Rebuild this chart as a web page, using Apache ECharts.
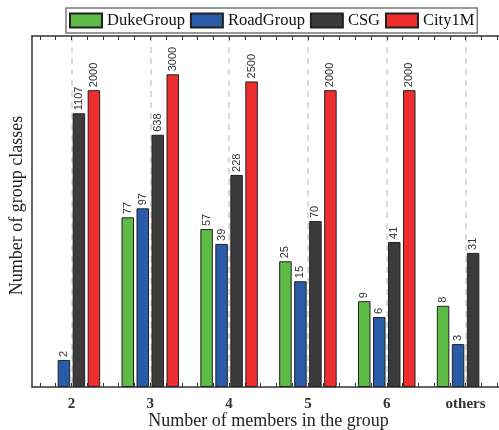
<!DOCTYPE html>
<html><head><meta charset="utf-8">
<script src="https://cdn.jsdelivr.net/npm/echarts@6/dist/echarts.min.js"></script>
<style>html,body{margin:0;padding:0;background:#fff}#c{width:499px;height:430px}</style>
</head><body><div id="c"></div>
<script>
const categories = ['2', '3', '4', '5', '6', 'others'];
const seriesNames = ['DukeGroup', 'RoadGroup', 'CSG', 'City1M'];
const dukeGroup = [null, 77, 57, 25, 9, 8];
const roadGroup = [2, 97, 39, 15, 6, 3];
const csg = [1107, 638, 228, 70, 41, 31];
const city1M = [2000, 3000, 2500, 2000, 2000, null];
const colors = ['#5dbb46', '#2a5ba8', '#3b3b3b', '#ee2e2e'];
const yMin = 1, yMax = 8000;

const dataSets = [dukeGroup, roadGroup, csg, city1M];
// helper slots: 10 per category, used only for minor ticks and dashed guide lines
const fineSlots = Array.from({length: categories.length * 10 + 1}, (_, i) => 'f' + i);
const serif = 'Liberation Serif';

function fineAxis(pos, showLine) {
  return {
    type: 'category', data: fineSlots, boundaryGap: false, position: pos,
    axisLine: {show: showLine, lineStyle: {color: '#333', width: 1.5}},
    axisTick: {show: true, inside: true, length: 4, interval: (i) => i % 2 === 1, lineStyle: {color: '#333', width: 1}},
    axisLabel: {show: false},
    splitLine: pos === 'bottom' ? {show: true, interval: (i) => i % 10 === 5, lineStyle: {color: '#cfcfcf', width: 1.5, type: [6, 5]}} : {show: false}
  };
}

const chart = echarts.init(document.getElementById('c'), null, {renderer: 'canvas'});
chart.setOption({
  animation: false,
  backgroundColor: '#fff',
  grid: {left: 32, right: -6, top: 36, bottom: 43, containLabel: false, outerBoundsMode: 'none'},
  legend: {
    data: seriesNames, left: 66, top: 8, padding: [4, 3], itemWidth: 32, itemHeight: 14, itemGap: 5,
    borderColor: '#777', borderWidth: 1.5, icon: 'rect',
    textStyle: {fontFamily: serif, fontSize: 16.5, color: '#111'}
  },
  xAxis: [
    {
      type: 'category', data: categories, position: 'bottom',
      name: 'Number of members in the group', nameLocation: 'middle', nameGap: 25, nameMoveOverlap: false,
      nameTextStyle: {fontFamily: serif, fontSize: 18, color: '#222'},
      axisLine: {show: true, lineStyle: {color: '#333', width: 1.5}},
      axisTick: {show: false},
      axisLabel: {fontFamily: serif, fontWeight: 'bold', fontSize: 15, color: '#333', margin: 10},
      splitLine: {show: false}
    },
    fineAxis('bottom', false),
    fineAxis('top', true)
  ],
  yAxis: [{
    type: 'log', min: yMin, max: yMax, logBase: 10,
    name: 'Number of group classes', nameLocation: 'middle', nameGap: 6, nameMoveOverlap: false,
    nameTextStyle: {fontFamily: serif, fontSize: 18, color: '#222', padding: [0, 0, 0, 12]},
    axisLine: {show: true, lineStyle: {color: '#333', width: 1.5}},
    axisTick: {show: false}, axisLabel: {show: false}, splitLine: {show: false}
  }],
  series: dataSets.map((d, i) => ({
    name: seriesNames[i], type: 'bar', xAxisIndex: 0, yAxisIndex: 0, data: d,
    barWidth: 12.5, barGap: '20%',
    itemStyle: {color: colors[i], borderColor: '#222', borderWidth: 1},
    label: {
      show: true, position: 'top', rotate: 90, align: 'left', verticalAlign: 'middle', distance: 3,
      color: '#333', fontFamily: 'Liberation Sans', fontSize: 11
    }
  }))
});
</script></body></html>
